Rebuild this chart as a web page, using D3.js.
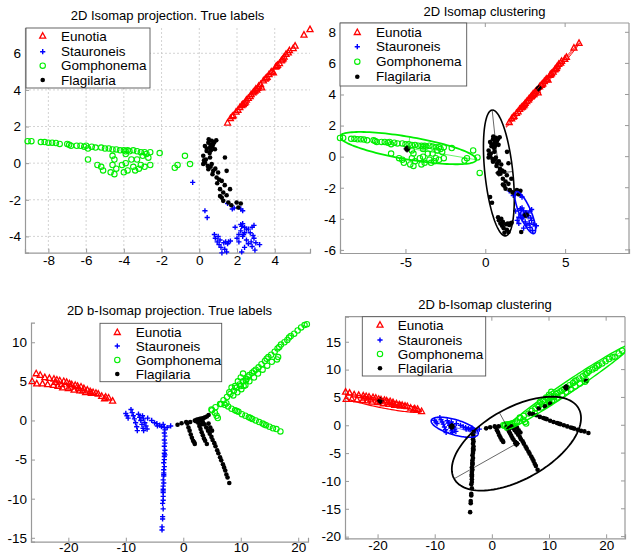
<!DOCTYPE html>
<html><head><meta charset="utf-8">
<script src="https://cdn.jsdelivr.net/npm/d3@7"></script>
<style>body{margin:0;background:#fff}svg{display:block;font-family:"Liberation Sans",Arial,sans-serif}</style>
</head><body><svg id="c" width="631" height="559"></svg>
<script>
// ---------- labels ----------
const classNames = ["Eunotia","Stauroneis","Gomphonema","Flagilaria"];
const titles = ["2D Isomap projection. True labels","2D Isomap clustering","2D b-Isomap projection. True labels","2D b-Isomap clustering"];
// ---------- Isomap embedding (top panels) ----------
const eunotiaI = [[1.5,2.2],[1.65,2.45],[1.75,2.55],[1.8,2.6],[1.95,2.8],[2.05,2.9],[2.15,3.05],[2.25,3.15],[2.33,3.22],[2.45,3.35],[2.5,3.45],[2.6,3.55],[2.7,3.65],[2.75,3.75],[2.85,3.85],[2.95,3.95],[3.0,4.05],[3.1,4.1],[3.15,4.2],[3.25,4.3],[3.31,4.12],[3.4,4.5],[3.5,4.6],[3.6,4.7],[3.7,4.85],[3.85,5.0],[3.93,4.94],[4.05,5.25],[4.15,5.35],[4.25,5.45],[4.35,5.6],[4.45,5.7],[4.5,5.8],[4.6,5.95],[4.72,6.03],[4.78,6.15],[4.98,6.27],[5.08,6.4],[5.55,7.0],[5.87,7.3],[2.3,3.2],[2.9,3.9],[3.55,4.65],[4.4,5.65],[2.4,3.28],[3.05,4.0],[3.8,4.95],[4.1,5.3]];
const stauroneisA = [[0.3,-2.6],[0.42,-2.97],[0.8,-3.9],[0.85,-4.1],[0.95,-4.3],[1.0,-4.0],[1.05,-4.45],[1.1,-4.2],[1.15,-4.6],[1.2,-4.9],[1.3,-4.35],[1.35,-4.7],[1.4,-4.3],[1.5,-4.4],[1.55,-4.3],[1.65,-4.25],[1.45,-4.85],[2.25,-4.85]];
const stauroneisB = [[1.5,-2.2],[1.75,-2.5],[1.85,-2.45],[2.2,-2.5],[2.3,-2.6],[2.2,-3.35],[2.3,-3.3],[2.4,-3.5],[2.5,-3.6],[2.2,-3.7],[2.1,-3.9],[2.0,-4.1],[1.9,-3.5],[2.3,-4.0],[2.4,-3.8],[2.6,-3.6],[2.7,-3.8],[2.8,-3.5],[2.85,-3.95],[2.9,-4.1],[2.75,-4.3],[2.6,-4.4],[2.5,-4.2],[2.8,-4.55],[3.0,-4.35],[3.2,-4.45],[2.95,-4.75],[2.9,-3.4],[2.4,-4.6],[2.1,-4.3],[2.25,-3.45],[2.35,-3.9]];
const stauroneisC = [[-0.35,-1.05]];
const flagilariaI = [[0.3,0.94],[0.48,1.12],[0.66,1.22],[0.74,1.04],[0.57,0.85],[0.83,0.76],[0.39,0.67],[0.21,0.4],[0.57,0.31],[1.36,0.31],[0.3,0.03],[0.66,-0.05],[0.21,-0.05],[0.48,-0.33],[0.74,-0.42],[1.0,-0.51],[1.45,-0.42],[0.92,-0.78],[1.19,-0.97],[1.1,-1.42],[1.27,-1.6],[1.63,-1.42],[1.19,-1.88],[1.27,-2.06],[1.54,-2.15],[1.98,-2.15],[2.2,-2.2],[2.07,-2.42],[0.5,1.3],[0.6,1.0],[0.7,0.9],[0.8,1.15],[0.4,0.8],[0.55,0.55],[0.35,0.2],[0.45,-0.15],[0.6,-0.2],[0.7,-0.6],[0.85,-0.3],[0.95,-1.1],[1.05,-0.9],[1.35,-1.2],[1.45,-1.75],[1.1,-1.8],[1.7,-2.3],[0.9,1.25],[0.62,0.7],[0.25,0.15]];
const gomphonemaI = [[-9.1,1.2],[-8.9,1.2],[-8.4,1.15],[-8.2,1.15],[-8.0,1.12],[-7.8,1.12],[-7.6,1.1],[-7.4,1.05],[-7.0,1.05],[-6.9,1.0],[-6.8,0.95],[-6.5,0.95],[-6.3,0.95],[-6.1,0.9],[-6.0,0.95],[-5.9,0.8],[-5.7,0.9],[-5.5,0.85],[-5.2,0.85],[-5.0,0.8],[-4.8,0.8],[-4.6,0.75],[-4.4,0.75],[-4.2,0.7],[-4.0,0.7],[-3.9,0.65],[-3.8,0.7],[-3.7,0.65],[-3.5,0.7],[-3.3,0.65],[-3.1,0.6],[-2.9,0.6],[-5.9,0.2],[-5.4,-0.1],[-5.2,-0.2],[-5.1,-0.4],[-4.6,0.4],[-4.5,0.2],[-4.6,-0.1],[-4.4,-0.3],[-4.5,-0.6],[-4.7,-0.5],[-4.1,-0.1],[-3.9,0.0],[-4.0,-0.5],[-3.8,-0.4],[-3.9,0.5],[-3.6,0.2],[-3.5,-0.2],[-3.4,-0.4],[-3.3,0.2],[-3.2,-0.3],[-3.1,-0.1],[-3.0,0.4],[-2.8,0.5],[-2.9,-0.2],[-2.7,0.3],[-2.6,-0.1],[-2.6,0.6],[-2.1,0.55],[-1.3,-0.25],[-1.15,-0.1],[-0.76,0.4],[-0.49,-0.05]];
const centroidsI = [[-4.9,0.5],[3.35,4.4],[2.55,-3.75],[0.85,-1.05]];
// ellipse: [cx, cy, ax, ay, bx, by]
const ellipsesI = {red:[3.6,4.6,2.3,2.7,0.08,-0.07], green:[-4.83,0.55,4.27,-0.75,0.1,0.72], black:[0.85,-1.05,-0.42,4.05,0.87,0.09], blue:[2.5,-3.6,0.55,-1.35,0.35,0.12]};
// ---------- b-Isomap embedding (bottom panels) ----------
const eunotiaB = [[-26.3,5.0],[-25.6,6.0],[-25.5,4.7],[-24.9,5.8],[-24.5,4.7],[-24.1,5.5],[-23.6,4.6],[-23.3,5.4],[-22.6,4.5],[-22.5,5.3],[-22,5.2],[-21.8,4.4],[-21.5,5.1],[-21,4.2],[-20.8,5.0],[-20.3,4.9],[-20,4.1],[-19.8,4.7],[-19.4,4.6],[-19,3.9],[-18.8,4.5],[-18.4,4.4],[-18,3.8],[-17.8,4.3],[-17.3,4.1],[-17,3.6],[-16.7,3.9],[-16.2,3.7],[-16,3.5],[-15.7,3.6],[-15.2,3.5],[-14.8,3.4],[-14.2,3.1],[-13.7,2.8],[-13.5,3.0],[-13.0,2.9],[-12.3,2.5],[-22.3,4.9],[-21.2,4.6],[-19.6,4.3],[-18.2,4.1],[-17.5,3.8]];
const stauroneisArms = [[-10,0.9],[-9.8,0.6],[-9.6,0.3],[-9.1,1.4],[-8.9,1.0],[-8.7,0.6],[-8.5,0.2],[-8.3,-0.3],[-8.1,-0.8],[-8.0,-1.3],[-7.8,0.8],[-7.6,0.4],[-7.4,0.0],[-7.2,-0.5],[-7.0,-1.0],[-6.9,-1.3],[-7.1,0.6],[-6.9,0.2],[-6.7,-0.3],[-6.5,-0.7],[-6.3,-1.1],[-6.2,0.3],[-5.5,0.0],[-5.0,-0.3],[-4.6,-0.4],[-4.1,-0.6],[-3.8,-0.8],[-3.3,-0.9],[-2.8,-0.9],[-2.2,-0.7],[-4.5,-0.7],[-3.5,-0.5]];
const stauroneisVert = [[-3.2,-1.2],[-3.3,-1.6],[-3.2,-2.0],[-3.3,-2.5],[-3.2,-2.9],[-3.3,-3.3],[-3.2,-3.8],[-3.3,-4.2],[-3.3,-4.6],[-3.3,-5.0],[-3.4,-5.4],[-3.3,-5.9],[-3.4,-6.3],[-3.4,-6.7],[-3.4,-7.1],[-3.5,-7.6],[-3.4,-8.0],[-3.5,-8.4],[-3.5,-8.8],[-3.5,-9.2],[-3.5,-9.7],[-3.5,-10.2],[-3.6,-10.6],[-3.5,-11.3],[-3.6,-12.3],[-3.6,-12.6],[-3.7,-13.6],[-3.7,-14.0],[-3.8,-15.6],[-3.2,-4.4],[-3.4,-6.9],[-3.5,-9.0]];
const flagilariaBar = [[2.0,0.0],[2.3,0.1],[2.6,0.15],[2.9,0.2],[3.2,0.25],[3.5,0.3],[3.8,0.4],[4.1,0.5],[4.4,0.7],[2.2,-0.1],[2.8,0.0],[3.3,0.1]];
const flagilariaRest = [[-1.0,-0.55],[-0.3,-0.35],[0.5,-0.2],[0.7,-0.4],[0.9,-0.9],[1.1,-1.3],[1.3,-1.8],[1.5,-2.2],[1.7,-2.6],[2.0,-3.0],[1.9,-2.8],[2.6,-0.3],[2.8,-0.7],[3.0,-1.1],[3.2,-1.5],[3.4,-1.9],[3.6,-2.3],[3.8,-2.6],[4.1,-3.0],[3.4,-0.2],[3.7,-0.5],[4.0,-0.9],[4.3,-1.3],[4.6,-1.7],[4.9,-2.1],[5.1,-2.5],[5.4,-2.9],[5.6,-3.3],[5.9,-3.8],[6.1,-4.2],[6.4,-4.7],[6.6,-5.1],[6.9,-5.6],[7.1,-6.0],[7.3,-6.4],[7.5,-6.9],[7.7,-7.3],[8.0,-8.0],[4.4,-0.4],[4.7,-0.9],[5.0,-1.3],[3.1,-0.5],[1.2,-0.2]];
const gomphonemaUpper = [[5.0,1.3],[5.6,1.7],[6.4,2.1],[7.0,2.6],[7.6,3.0],[8.2,3.4],[8.8,3.8],[9.3,4.2],[9.8,4.6],[10.4,5.0],[11.0,5.3],[11.5,5.8],[12.0,6.1],[12.6,6.5],[13.1,6.8],[13.6,7.2],[14.2,7.6],[14.8,8.1],[15.3,8.4],[15.9,8.8],[16.4,9.2],[17.0,9.7],[17.6,10.0],[18.1,10.3],[18.7,10.8],[19.3,11.1],[19.9,11.5],[20.5,11.9],[21.1,12.2],[21.5,12.3],[22.2,12.9],[22.8,13.4],[23.4,13.8],[23.9,14.2],[10.0,4.4],[12.3,6.3],[14.5,7.9],[16.7,9.4],[18.4,10.6]];
const gomphonemaMid = [[8.7,3.2],[9.4,3.6],[10.1,4.0],[10.8,4.5],[11.5,5.0],[12.3,5.5],[13.0,6.0],[13.8,6.5],[14.6,7.0],[15.4,7.5],[16.3,7.8],[16.5,8.1],[9.5,5.0],[10.0,5.5],[10.4,6.0],[10.5,4.4],[10.9,5.1],[11.2,5.6],[9.0,4.4],[8.0,3.6],[7.5,2.2],[8.4,4.2]];
const gomphonemaLower = [[6.6,2.1],[7.2,2.0],[7.8,1.8],[8.4,1.5],[9.0,1.3],[9.6,1.1],[10.2,0.8],[10.8,0.6],[11.4,0.4],[12.0,0.2],[12.6,0.0],[13.2,-0.2],[13.8,-0.4],[14.4,-0.6],[15.0,-0.8],[15.6,-1.0],[16.2,-1.1],[16.9,-1.4],[9.3,1.2],[11.7,0.3],[14.1,-0.5]];
const gomphonemaMisc = [[4.9,1.4],[5.8,0.6],[6.0,0.3],[5.5,1.0]];
const extraBlackB = [[8.2,3.0],[9.3,3.4],[10.2,3.9],[16.5,8.0]];
const centroidsB = [[-19.5,4.4],[-7.0,-0.2],[13.0,6.8],[4.3,-3.3]];
const ellipsesB = {red:[-19.2,3.9,6.9,-1.4,0.15,0.75], green:[13.4,6.85,11.1,7.65,0.5,-0.9], blue:[-6.5,-0.35,4.1,-1.25,0.4,1.3], black:[4.3,-3.3,-10.9,-6.3,-3.0,5.6]};
// ---------- ticks ----------
const ticksTL = {x:[-8,-6,-4,-2,0,2,4], y:[-4,-2,0,2,4,6]};
const ticksTR = {x:[-5,0,5], y:[-6,-4,-2,0,2,4,6,8]};
const ticksBL = {x:[-20,-10,0,10,20], y:[-15,-10,-5,0,5,10]};
const ticksBR = {x:[-20,-10,0,10,20], y:[-20,-15,-10,-5,0,5,10,15]};

const RED="#ff0000", BLUE="#0000ff", GREEN="#00ee00", BLACK="#000000";
const svg = d3.select("#c");
const FONT = 13, TICKFONT = 13.5;

function drawMarker(g, kind, x, y){
  if(kind==="tri"){
    g.append("path").attr("d",`M${x},${y-3.3}L${x+3},${y+2.2}L${x-3},${y+2.2}Z`).attr("fill","none").attr("stroke",RED).attr("stroke-width",1.3);
  } else if(kind==="plus"){
    g.append("path").attr("d",`M${x-2.6},${y}H${x+2.6}M${x},${y-2.6}V${y+2.6}`).attr("stroke",BLUE).attr("stroke-width",1.4);
  } else if(kind==="circ"){
    g.append("circle").attr("cx",x).attr("cy",y).attr("r",2.7).attr("fill","none").attr("stroke",GREEN).attr("stroke-width",1.1);
  } else if(kind==="dot"){
    g.append("circle").attr("cx",x).attr("cy",y).attr("r",2.3).attr("fill",BLACK);
  } else if(kind==="cent"){
    g.append("circle").attr("cx",x).attr("cy",y).attr("r",2.8).attr("fill",BLACK);
    g.append("path").attr("d",`M${x-3.5},${y}H${x+3.5}M${x},${y-3.5}V${y+3.5}`).attr("stroke",BLACK).attr("stroke-width",1.2);
  }
}

function panel(cfg){
  const x = d3.scaleLinear().domain(cfg.xd).range(cfg.xr);
  const y = d3.scaleLinear().domain(cfg.yd).range(cfg.yr);
  const g = svg.append("g");
  const [x0,x1]=cfg.xr, [y1,y0]=cfg.yr;
  const id = "clip"+cfg.id;
  svg.append("clipPath").attr("id",id).append("rect").attr("x",x0).attr("y",y0).attr("width",x1-x0).attr("height",y1-y0);
  if(cfg.grid){
    cfg.ticks.x.forEach(t=>g.append("line").attr("x1",x(t)).attr("x2",x(t)).attr("y1",y0).attr("y2",y1).attr("stroke","#c8c8c8").attr("stroke-width",0.8).attr("stroke-dasharray","2,2"));
    cfg.ticks.y.forEach(t=>g.append("line").attr("y1",y(t)).attr("y2",y(t)).attr("x1",x0).attr("x2",x1).attr("stroke","#c8c8c8").attr("stroke-width",0.8).attr("stroke-dasharray","2,2"));
  }
  const ax = g.append("g").attr("transform",`translate(0,${y1})`).call(d3.axisBottom(x).tickValues(cfg.ticks.x).tickSize(-4).tickPadding(cfg.xpad).tickFormat(d3.format("d")));
  const ay = g.append("g").attr("transform",`translate(${x0},0)`).call(d3.axisLeft(y).tickValues(cfg.ticks.y).tickSize(-4).tickPadding(4).tickFormat(d3.format("d")));
  [ax,ay].forEach(a=>{
    a.select(".domain").attr("stroke","#999").attr("stroke-width",1.2);
    a.selectAll(".tick line").attr("stroke","#999");
    a.selectAll(".tick text").attr("fill","#000").style("font-size",TICKFONT+"px").style("font-family",'"Liberation Sans",Arial,sans-serif').text(d=>String(d));
  });
  if(cfg.box){
    g.append("line").attr("x1",x0).attr("x2",x1).attr("y1",y0).attr("y2",y0).attr("stroke","#999").attr("stroke-width",1.2);
    g.append("line").attr("x1",x1).attr("x2",x1).attr("y1",y0).attr("y2",y1).attr("stroke","#999").attr("stroke-width",1.2);
    cfg.ticks.x.forEach(t=>g.append("line").attr("x1",x(t)).attr("x2",x(t)).attr("y1",y0).attr("y2",y0+4).attr("stroke","#999"));
    cfg.ticks.y.forEach(t=>g.append("line").attr("y1",y(t)).attr("y2",y(t)).attr("x1",x1).attr("x2",x1-4).attr("stroke","#999"));
  }
  const inside = p => p[0]>=cfg.xd[0]-0.05 && p[0]<=cfg.xd[1]+0.05 && p[1]>=cfg.yd[0]-0.05 && p[1]<=cfg.yd[1]+0.05;
  const pg = g.append("g");
  cfg.series.forEach(s=>s.pts.filter(inside).forEach(p=>drawMarker(pg,s.kind,x(p[0]),y(p[1]))));
  if(cfg.ellipses){
    const eg = g.append("g").attr("clip-path",`url(#${id})`);
    const line = d3.line().x(d=>x(d[0])).y(d=>y(d[1]));
    cfg.ellipses.forEach(e=>{
      const [cx,cy,axx,ayy,bx,by] = e.p;
      const pts = d3.range(0,121).map(i=>{const t=i/120*2*Math.PI;return [cx+axx*Math.cos(t)+bx*Math.sin(t), cy+ayy*Math.cos(t)+by*Math.sin(t)];});
      eg.append("path").attr("d",line(pts)).attr("fill","none").attr("stroke",e.c).attr("stroke-width",e.w||1.6);
      eg.append("path").attr("d",line([[cx+axx,cy+ayy],[cx,cy],[cx+bx,cy+by]])).attr("fill","none").attr("stroke",e.c).attr("stroke-width",0.6);
    });
  }
  if(cfg.centroids) cfg.centroids.filter(inside).forEach(p=>drawMarker(pg.append("g"),"cent",x(p[0]),y(p[1])));
  svg.append("text").attr("x",(x0+x1)/2).attr("y",cfg.titleY).attr("text-anchor","middle").style("font-size",FONT+"px").text(cfg.title);
  const L = cfg.legend;
  const lg = svg.append("g");
  lg.append("rect").attr("x",L.x).attr("y",L.y).attr("width",L.w).attr("height",L.h).attr("fill","#fff").attr("stroke","#555").attr("stroke-width",0.9);
  const kinds=["tri","plus","circ","dot"];
  classNames.forEach((n,i)=>{
    drawMarker(lg,kinds[i],L.mx,L.rows[i]);
    lg.append("text").attr("x",L.tx).attr("y",L.rows[i]+4.7).style("font-size",(FONT+0.5)+"px").text(n);
  });
}

panel({id:"tl", xd:[-9.24,5.87], xr:[25,310], yd:[-4.89,7.38], yr:[252.7,28], ticks:ticksTL, grid:true, box:false, xpad:3,
  title:titles[0], titleY:19.5,
  series:[{pts:eunotiaI,kind:"tri"},{pts:stauroneisA.concat(stauroneisB,stauroneisC),kind:"plus"},{pts:gomphonemaI,kind:"circ"},{pts:flagilariaI,kind:"dot"}],
  legend:{x:26,y:28,w:124,h:60,mx:42.7,tx:61,rows:[36,51.7,65.7,80]}});
panel({id:"tr", xd:[-9.1,9.0], xr:[340,629], yd:[-6.2,8.6], yr:[253,23], ticks:ticksTR, grid:false, box:true, xpad:4,
  title:titles[1], titleY:15.5,
  series:[{pts:eunotiaI,kind:"tri"},{pts:stauroneisB,kind:"plus"},{pts:gomphonemaI.concat(stauroneisC),kind:"circ"},{pts:flagilariaI.concat(stauroneisA),kind:"dot"}],
  ellipses:[{p:ellipsesI.red,c:RED,w:1},{p:ellipsesI.green,c:GREEN,w:1.8},{p:ellipsesI.black,c:BLACK,w:1.6},{p:ellipsesI.blue,c:BLUE,w:1.6}],
  centroids:centroidsI,
  legend:{x:340,y:23,w:126.7,h:63,mx:357.3,tx:376,rows:[32.3,46.7,61.7,76.7]}});
panel({id:"bl", xd:[-26.5,21.7], xr:[31,308], yd:[-15.5,12.5], yr:[541.7,322.7], ticks:ticksBL, grid:false, box:false, xpad:1,
  title:titles[2], titleY:314.5,
  series:[{pts:eunotiaB,kind:"tri"},{pts:stauroneisArms.concat(stauroneisVert),kind:"plus"},{pts:gomphonemaUpper.concat(gomphonemaMid,gomphonemaLower,gomphonemaMisc),kind:"circ"},{pts:flagilariaBar.concat(flagilariaRest),kind:"dot"}],
  legend:{x:100,y:323.3,w:121.7,h:58.4,mx:117.3,tx:135.7,rows:[332.3,346,360,374]}});
panel({id:"br", xd:[-25.7,23.3], xr:[345,625], yd:[-20.3,19.5], yr:[538.3,316.7], ticks:ticksBR, grid:false, box:true, xpad:2,
  title:titles[3], titleY:308.5,
  series:[{pts:eunotiaB,kind:"tri"},{pts:stauroneisArms,kind:"plus"},{pts:gomphonemaUpper.concat(gomphonemaMid,gomphonemaMisc,flagilariaBar),kind:"circ"},{pts:flagilariaRest.concat(stauroneisVert,gomphonemaLower,extraBlackB),kind:"dot"}],
  ellipses:[{p:ellipsesB.red,c:RED,w:1.2},{p:ellipsesB.green,c:GREEN,w:1.4},{p:ellipsesB.blue,c:BLUE,w:1.6},{p:ellipsesB.black,c:BLACK,w:1.8}],
  centroids:centroidsB,
  legend:{x:362.3,y:316.7,w:123.4,h:59.3,mx:380,tx:397.7,rows:[325,340,354,368.3]}});
</script></body></html>
